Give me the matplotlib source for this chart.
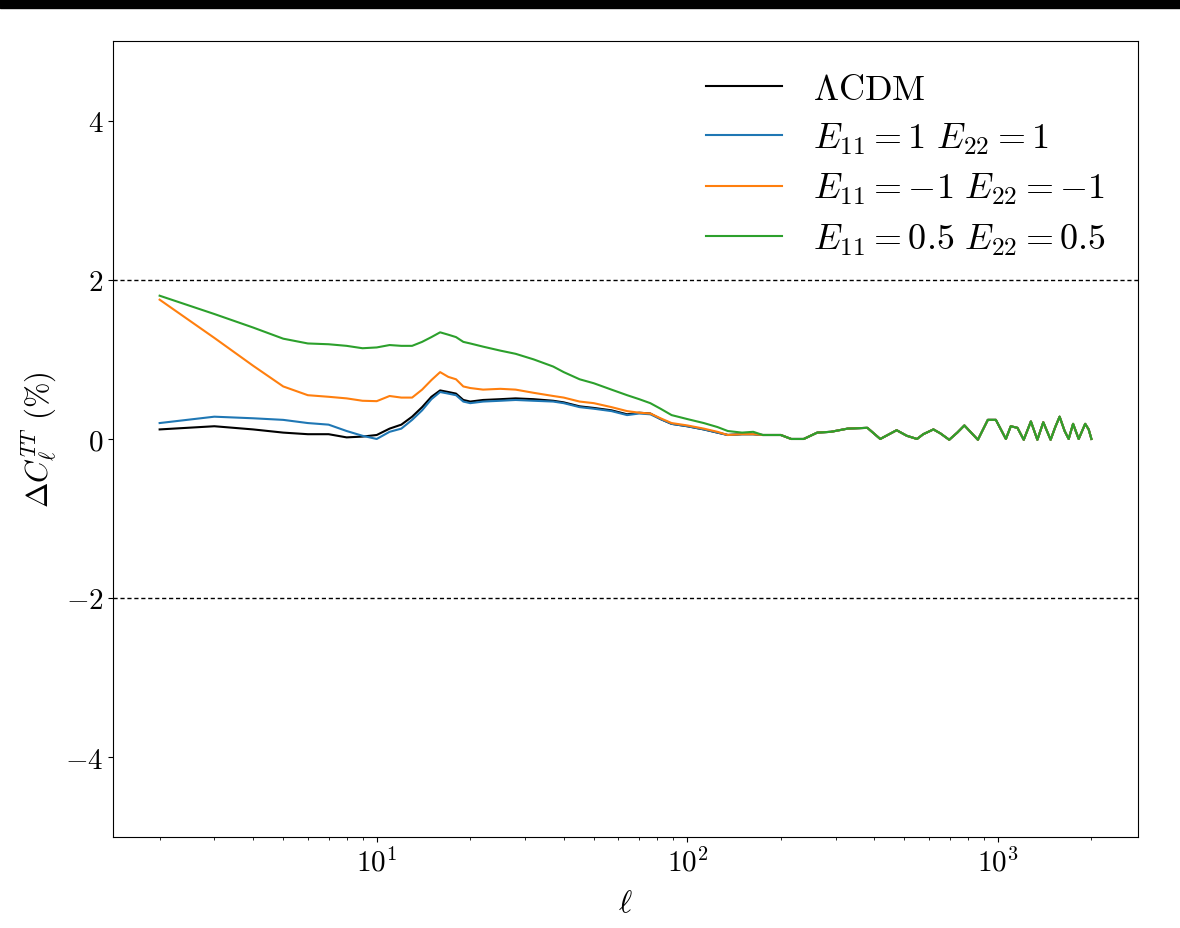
"""Relative TT power spectrum difference vs LCDM for several E11/E22 choices.

Values are read off the reference figure (percent deviation).
"""
import numpy as np
import matplotlib
matplotlib.use("Agg")
import matplotlib.pyplot as plt
from matplotlib.patches import Rectangle

plt.rcParams["font.family"] = "serif"
plt.rcParams["font.serif"] = ["cmr10"]
plt.rcParams["mathtext.fontset"] = "cm"
plt.rcParams["axes.formatter.use_mathtext"] = True
plt.rcParams["axes.unicode_minus"] = True

# multipoles where the four curves differ (ell = 2 ... 175)
ELL_LOW = [2, 3, 4, 5, 6, 7, 8, 9, 10, 11, 12, 13, 14, 15, 16, 17, 18, 19, 20,
           22, 25, 28, 32, 37, 40, 45, 50, 57, 64, 70, 76, 82, 89, 100, 113,
           125, 135, 150, 163, 175]

LCDM_LOW = [0.12, 0.16, 0.12, 0.08, 0.06, 0.06, 0.02, 0.03, 0.05, 0.13, 0.18,
            0.28, 0.40, 0.53, 0.61, 0.59, 0.57, 0.49, 0.47, 0.49, 0.50, 0.51,
            0.50, 0.48, 0.46, 0.41, 0.39, 0.36, 0.31, 0.33, 0.32, 0.25, 0.19,
            0.16, 0.12, 0.08, 0.05, 0.06, 0.06, 0.05]
E1_LOW = [0.20, 0.28, 0.26, 0.24, 0.20, 0.18, 0.10, 0.04, 0.00, 0.09, 0.13,
          0.24, 0.36, 0.50, 0.59, 0.57, 0.55, 0.47, 0.45, 0.47, 0.48, 0.49,
          0.48, 0.47, 0.45, 0.40, 0.38, 0.35, 0.30, 0.32, 0.31, 0.25, 0.19,
          0.16, 0.12, 0.08, 0.05, 0.06, 0.06, 0.05]
EM1_LOW = [1.75, 1.27, 0.92, 0.66, 0.55, 0.53, 0.51, 0.48, 0.475, 0.54, 0.52,
           0.52, 0.62, 0.74, 0.84, 0.78, 0.75, 0.66, 0.64, 0.62, 0.63, 0.62,
           0.58, 0.54, 0.52, 0.47, 0.45, 0.40, 0.35, 0.33, 0.32, 0.26, 0.20,
           0.17, 0.13, 0.09, 0.05, 0.06, 0.06, 0.05]
E05_LOW = [1.80, 1.57, 1.40, 1.26, 1.20, 1.19, 1.17, 1.14, 1.15, 1.18, 1.17,
           1.17, 1.22, 1.28, 1.34, 1.31, 1.28, 1.22, 1.20, 1.16, 1.11, 1.07,
           1.00, 0.91, 0.84, 0.75, 0.70, 0.62, 0.55, 0.50, 0.45, 0.38, 0.30,
           0.25, 0.20, 0.15, 0.10, 0.08, 0.09, 0.05]

# high multipoles: all four curves coincide
ELL_HIGH = [190, 200, 216, 237, 262, 290, 328, 380, 418, 472, 509, 549, 575,
            620, 653, 697, 740, 780, 862, 928, 985, 1061, 1100, 1156, 1211,
            1277, 1340, 1400, 1478, 1530, 1580, 1640, 1690, 1746, 1820, 1910,
            1960, 2000]
SHARED_HIGH = [0.05, 0.05, 0.00, 0.00, 0.08, 0.09, 0.13, 0.14, 0.00, 0.11,
               0.04, 0.00, 0.06, 0.12, 0.07, -0.01, 0.08, 0.17, -0.01, 0.24,
               0.24, 0.00, 0.16, 0.14, -0.01, 0.22, -0.01, 0.21, -0.01, 0.15,
               0.28, 0.10, 0.00, 0.19, 0.00, 0.19, 0.12, 0.00]

SERIES = [
    (r"$\Lambda$CDM", LCDM_LOW, "k"),
    (r"$E_{11}=1\ E_{22}=1$", E1_LOW, "C0"),
    (r"$E_{11}=-1\ E_{22}=-1$", EM1_LOW, "C1"),
    (r"$E_{11}=0.5\ E_{22}=0.5$", E05_LOW, "C2"),
]

fig = plt.figure(figsize=(11.8, 9.29), dpi=100)
ax = fig.add_axes([0.0958, 0.098, 0.8686, 0.8568])

ell = np.array(ELL_LOW + ELL_HIGH)
for label, low, col in SERIES:
    ax.plot(ell, np.array(low + SHARED_HIGH), color=col, lw=1.5, label=label)

ax.axhline(2, color="k", lw=1.0, ls=(0, (3, 2)))
ax.axhline(-2, color="k", lw=1.0, ls=(0, (3, 2)))

ax.set_xscale("log")
ax.set_ylim(-5, 5)
ax.set_yticks([-4, -2, 0, 2, 4])
ax.tick_params(labelsize=21)
ax.set_xlabel(r"$\ell$", fontsize=23, labelpad=10)
ax.set_ylabel(r"$\Delta C_\ell^{TT}$ (%)", fontsize=22)
ax.legend(loc="upper right", frameon=False, fontsize=26, labelspacing=0.42,
          handlelength=2.1, handletextpad=0.85)

# dark strip across the top of the screenshot
fig.add_artist(Rectangle((0, 1 - 9 / 929), 1, 9 / 929, transform=fig.transFigure,
                         color="black", zorder=10))

fig.savefig("out.png", dpi=100)
